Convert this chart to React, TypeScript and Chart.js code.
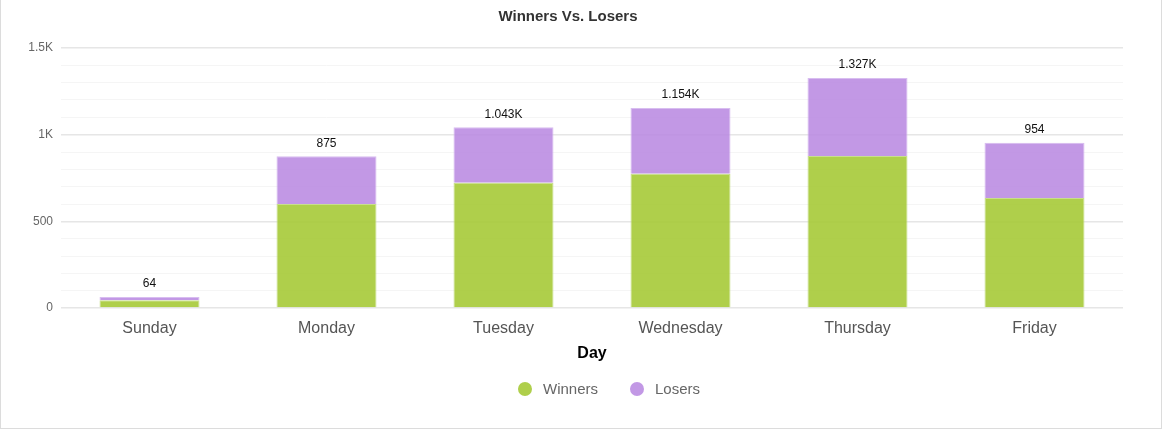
import React, { useEffect, useRef } from "react";
import { Chart, registerables } from "chart.js";

Chart.register(...registerables);

const categories = ["Sunday", "Monday", "Tuesday", "Wednesday", "Thursday", "Friday"];
const winners = [45, 600, 723, 775, 877, 635];
const losers = [19, 275, 320, 379, 450, 319];
const seriesNames = ["Winners", "Losers"];
const seriesColors = ["rgba(166,202,55,0.9)", "rgba(183,134,224,0.85)"];
const seriesBorders = ["#c8df8c", "#d8bdf0"];
const yMax = 1500;
const yStep = 100;

const FONT = "'Liberation Sans', Arial, sans-serif";

function fmtK(v: number): string {
  if (Math.abs(v) >= 1000) {
    return (v / 1000).toFixed(3).replace(/\.?0+$/, "") + "K";
  }
  return String(v);
}

const titlePlugin = {
  id: "customTitle",
  afterDraw(chart: any) {
    const ctx = chart.ctx;
    ctx.save();
    ctx.font = `bold 15px ${FONT}`;
    ctx.fillStyle = "#333";
    ctx.textAlign = "center";
    ctx.textBaseline = "middle";
    ctx.fillText("Winners Vs. Losers", 567, 17);
    ctx.restore();
  },
};

const totalsPlugin = {
  id: "totals",
  afterDatasetsDraw(chart: any) {
    const ctx = chart.ctx;
    const meta = chart.getDatasetMeta(chart.data.datasets.length - 1);
    ctx.save();
    ctx.font = `12px ${FONT}`;
    ctx.fillStyle = "#111";
    ctx.textAlign = "center";
    ctx.textBaseline = "middle";
    categories.forEach((_, i) => {
      const bar = meta.data[i];
      const total = winners[i] + losers[i];
      ctx.fillText(fmtK(total), bar.x, bar.y - 13);
    });
    ctx.restore();
  },
};

const legendPlugin = {
  id: "customLegend",
  afterDraw(chart: any) {
    const ctx = chart.ctx;
    ctx.save();
    ctx.font = `15px ${FONT}`;
    ctx.textBaseline = "middle";
    ctx.textAlign = "left";
    const r = 7;
    const gapText = 11;
    const gapItem = 32;
    const widths = seriesNames.map((n) => ctx.measureText(n).width);
    const total = widths.reduce((a, w) => a + 2 * r + gapText + w, 0) + gapItem * (seriesNames.length - 1);
    let x = 608 - total / 2;
    const y = 389;
    seriesNames.forEach((n, i) => {
      ctx.fillStyle = seriesColors[i];
      ctx.beginPath();
      ctx.arc(x + r, y, r, 0, Math.PI * 2);
      ctx.fill();
      ctx.fillStyle = "#666";
      ctx.fillText(n, x + 2 * r + gapText, y + 1);
      x += 2 * r + gapText + widths[i] + gapItem;
    });
    ctx.restore();
  },
};

export default function App() {
  const ref = useRef<HTMLCanvasElement | null>(null);

  useEffect(() => {
    if (!ref.current) return;
    const chart = new Chart(ref.current, {
      type: "bar",
      data: {
        labels: categories,
        datasets: [
          {
            label: seriesNames[0],
            data: winners,
            backgroundColor: seriesColors[0],
            borderColor: seriesBorders[0],
            borderWidth: 1,
            barPercentage: 0.565,
            categoryPercentage: 1,
          },
          {
            label: seriesNames[1],
            data: losers,
            backgroundColor: seriesColors[1],
            borderColor: seriesBorders[1],
            borderWidth: 1,
            barPercentage: 0.565,
            categoryPercentage: 1,
          },
        ],
      },
      options: {
        animation: false,
        responsive: true,
        maintainAspectRatio: false,
        layout: { padding: { top: 48, right: 38, bottom: 60, left: 0 } },
        plugins: {
          legend: { display: false },
          title: { display: false },
          tooltip: { enabled: false },
        },
        scales: {
          x: {
            stacked: true,
            grid: { display: false, drawTicks: false },
            border: { display: false },
            ticks: {
              color: "#555",
              font: { family: FONT, size: 16 },
              padding: 11,
            },
            title: {
              display: true,
              text: "Day",
              color: "#000",
              font: { family: FONT, size: 16, weight: "bold" },
              padding: { top: 2, bottom: 5 },
            },
            afterFit(s: any) {
              s.height = 60;
            },
          },
          y: {
            stacked: true,
            min: 0,
            max: yMax,
            border: { display: false },
            grid: {
              drawTicks: false,
              color: (c: any) => (c.tick && c.tick.value % 500 === 0 ? "#e6e6e6" : "#f5f5f5"),
              lineWidth: (c: any) => (c.tick && c.tick.value % 500 === 0 ? 1.5 : 1),
            },
            ticks: {
              stepSize: yStep,
              autoSkip: false,
              color: "#666",
              font: { family: FONT, size: 12 },
              padding: 8,
              callback: (v: any) => (Number(v) % 500 === 0 ? fmtK(Number(v)) : ""),
            },
            afterFit(s: any) {
              s.width = 60;
            },
          },
        },
      },
      plugins: [titlePlugin, totalsPlugin, legendPlugin],
    } as any);
    return () => chart.destroy();
  }, []);

  return (
    <div
      style={{
        position: "absolute",
        left: 0,
        top: 0,
        width: 1162,
        height: 429,
        boxSizing: "border-box",
        borderLeft: "1px solid #dcdcdc",
        borderRight: "1px solid #dcdcdc",
        borderBottom: "1px solid #dcdcdc",
        background: "#fff",
      }}
    >
      <canvas ref={ref} />
    </div>
  );
}
